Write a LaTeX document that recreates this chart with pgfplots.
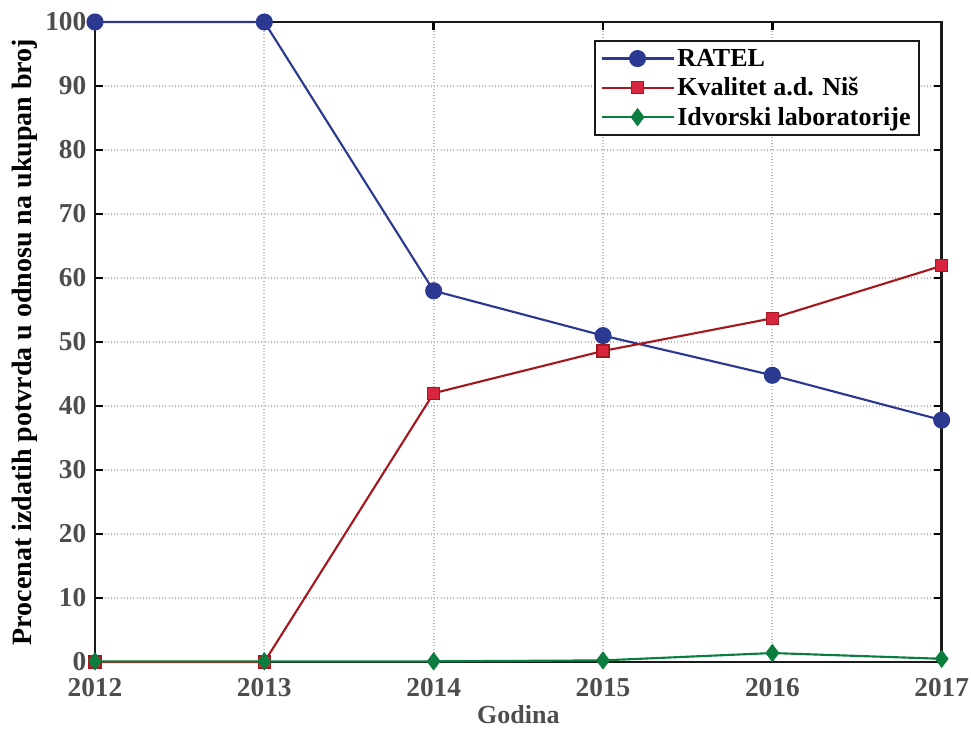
\documentclass[border=0pt]{standalone}
\usepackage{pgfplots}
\pgfplotsset{compat=1.18}
\usepackage{fontspec}
\setmainfont{Liberation Serif}
\definecolor{cblue}{HTML}{2B3990}
\definecolor{cred}{HTML}{A3191F}
\definecolor{credf}{HTML}{D7263D}
\definecolor{cgreen}{HTML}{0B7D3E}
\definecolor{tickgray}{HTML}{4D4D4D}
\begin{document}
\begin{tikzpicture}
\useasboundingbox (-71.25pt,-51.75pt) rectangle (657pt,496.5pt);
\begin{axis}[
  at={(0,0)}, anchor=south west,
  scale only axis,
  width=635pt, height=480pt,
  xmin=2012, xmax=2017, ymin=0, ymax=100,
  xtick={2012,2013,2014,2015,2016,2017},
  ytick={0,10,...,100},
  /pgf/number format/assume math mode=true,
  xticklabel style={font=\fontsize{20.5}{23}\selectfont\bfseries, text=tickgray, yshift=-9pt},
  yticklabel style={font=\fontsize{20.5}{23}\selectfont\bfseries, text=tickgray, xshift=-3pt},
  x tick label style={/pgf/number format/1000 sep={}},
  tick align=inside,
  major tick length=6pt,
  every tick/.style={black, line width=2pt},
  axis line style={line width=2.2pt, black!90},
  grid=major,
  major grid style={gray!55, dotted, line width=1.3pt},
  xlabel={Godina},
  ylabel={Procenat izdatih potvrda u odnosu na ukupan broj},
  xlabel style={font=\fontsize{19.5}{22}\selectfont\bfseries, text=tickgray, yshift=1pt},
  ylabel style={font=\fontsize{21}{23}\selectfont\bfseries, yshift=-1pt},
  legend style={at={(0.974,0.972)}, anchor=north east, draw=black!90, line width=1.6pt,
    font=\fontsize{19.5}{23}\selectfont\bfseries, row sep=3pt, inner sep=4pt,
    cells={anchor=west}},
  legend image code/.code={\draw[mark repeat=2, mark phase=2, #1] plot coordinates {(0cm,0cm) (0.95cm,0cm) (1.9cm,0cm)};},
  clip=false,
]
\addplot[cblue, line width=1.6pt, mark=*, mark size=5.6pt, mark options={fill=cblue, draw=cblue}]
  coordinates {(2012,100) (2013,100) (2014,58.0) (2015,51.0) (2016,44.8) (2017,37.8)};
\addlegendentry{RATEL}
\addplot[cred, line width=1.6pt, mark=square*, mark size=4.5pt, mark options={fill=credf, draw=cred, line width=1pt}]
  coordinates {(2012,0) (2013,0) (2014,42.0) (2015,48.6) (2016,53.7) (2017,61.9)};
\addlegendentry{Kvalitet a.d. Niš}
\addplot[cgreen, line width=1.6pt, mark=diamond*, mark size=6.5pt, mark options={fill=cgreen, draw=cgreen, line width=0.5pt}]
  coordinates {(2012,0.1) (2013,0.1) (2014,0.1) (2015,0.25) (2016,1.4) (2017,0.5)};
\addlegendentry{Idvorski laboratorije}
\end{axis}
\end{tikzpicture}
\end{document}
